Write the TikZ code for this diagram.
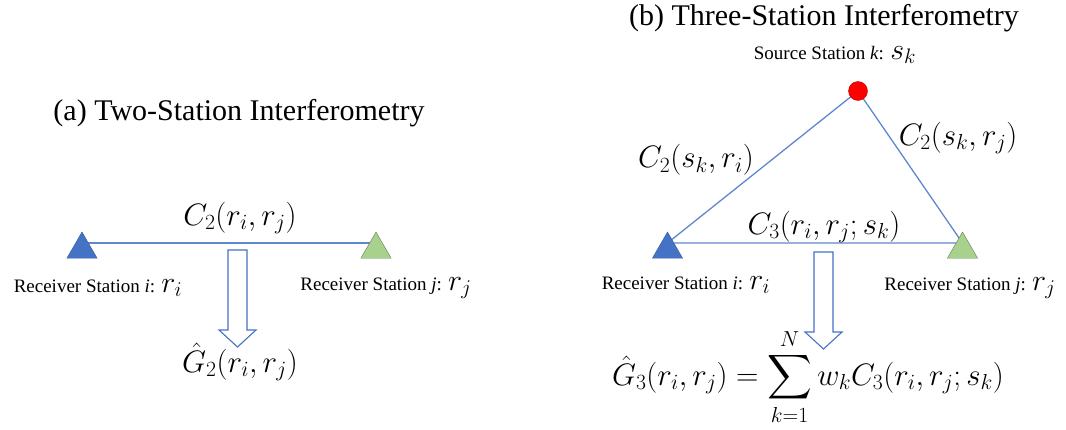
\RequirePackage{fix-cm}
\documentclass[tikz,border=0pt]{standalone}
\usepackage{amsmath,amssymb}
\usepackage[no-math]{fontspec}
\setmainfont{Liberation Serif}
\usetikzlibrary{shapes.geometric,backgrounds,calc}
\definecolor{linkCol}{RGB}{95,135,205}
\definecolor{rcvBlue}{RGB}{68,114,196}
\definecolor{rcvGreen}{RGB}{169,209,142}
\definecolor{srcRed}{RGB}{255,0,0}
\tikzset{
  rcv/.style={regular polygon,regular polygon sides=3,minimum size=35pt,inner sep=0pt},
  rcvi/.style={rcv,draw=rcvBlue!80!black,fill=rcvBlue},
  rcvj/.style={rcv,draw=rcvGreen!60!black,fill=rcvGreen},
  src/.style={circle,draw=srcRed!75!black,fill=srcRed,minimum size=19pt,inner sep=0pt},
  link/.style={draw=linkCol,line width=1.3pt},
  hollow/.style={draw=rcvBlue,fill=white,line width=1.1pt,line join=miter},
  ttl/.style={font=\fontsize{30}{34}\selectfont,inner sep=0pt},
  lab/.style={font=\fontsize{19}{22}\selectfont,inner sep=0pt},
  eq/.style={font=\fontsize{31}{35}\selectfont,inner sep=0pt},
}
\newcommand{\stvar}[1]{{\fontsize{30}{32}\selectfont$#1$}}

\begin{document}
\begin{tikzpicture}[x=1pt,y=-1pt]
    \useasboundingbox (0,0) rectangle (1066,430);
    % --- (a) two stations ---
    \node[ttl] (ttla) at (239,113) {(a) Two-Station Interferometry};
    \node[rcvi] (ri2) at (82,249.5) {};
    \node[rcvj] (rj2) at (376,249.5) {};
    \node[eq] (c2) at (240,218) {$C_2(r_i,r_j)$};
    \node[lab] (labi2) at (98,288) {Receiver Station \textit{i}: \stvar{r_i}};
    \node[lab] (labj2) at (386,288) {Receiver Station \textit{j}: \stvar{r_j}};
    \node[eq] (g2) at (240,362) {$\hat{G}_2(r_i,r_j)$};
    \coordinate (arra) at (237.5,250);
    \begin{scope}[on background layer]
      \draw[link] ([yshift=6.5pt]ri2.center) -- ([yshift=6.5pt]rj2.center);
    \end{scope}
    % --- (b) three stations ---
    \node[ttl] (ttlb) at (824,18) {(b) Three-Station Interferometry};
    \node[lab] (labk) at (835,55) {Source Station \textit{k}: \stvar{s_k}};
    \node[src] (sk) at (858,91) {};
    \node[rcvi] (ri3) at (667.5,249.5) {};
    \node[rcvj] (rj3) at (962.5,249.5) {};
    \node[eq] (c2i) at (696,160) {$C_2(s_k,r_i)$};
    \node[eq] (c2j) at (958,138) {$C_2(s_k,r_j)$};
    \node[eq] (c3) at (824,227) {$C_3(r_i,r_j;s_k)$};
    \node[lab] (labi3) at (686,285) {Receiver Station \textit{i}: \stvar{r_i}};
    \node[lab] (labj3) at (970,288) {Receiver Station \textit{j}: \stvar{r_j}};
    \node[eq] (g3) at (808,377)
      {$\displaystyle\hat{G}_3(r_i,r_j)=\sum_{k=1}^{N}w_kC_3(r_i,r_j;s_k)$};
    \coordinate (arrb) at (823.5,252);
    \begin{scope}[on background layer]
      \draw[link] (sk.center) -- ([yshift=6.5pt]ri3.center)
                  -- ([yshift=6.5pt]rj3.center) -- (sk.center);
    \end{scope}
    % --- hollow arrows ---
    \foreach \c in {arra,arrb}
      \draw[hollow] (\c) ++(-9.5,0) -- ++(0,80) -- ++(-9,0) -- ++(18.5,17)
        -- ++(18.5,-17) -- ++(-9,0) -- ++(0,-80) -- cycle;
\end{tikzpicture}
\end{document}
